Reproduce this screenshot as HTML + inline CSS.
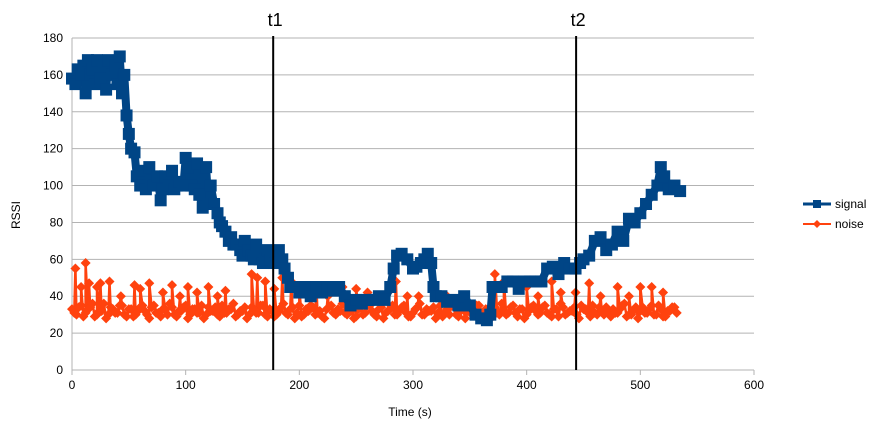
<!DOCTYPE html>
<html><head><meta charset="utf-8"><style>
body{margin:0;background:#fff;}
svg{display:block;font-family:"Liberation Sans",sans-serif;}
</style></head><body>
<svg id="chart" width="881" height="429"></svg>
<script>
const xTicks=[0,100,200,300,400,500,600];
const yTicks=[0,20,40,60,80,100,120,140,160,180];
const markerTimes=[177,443.5];
const markerLabels=["t1","t2"];
const signalT=[0,3,5,8,10,12,14,16,18,20,22,25,28,30,32,35,38,40,42,44,46,48,50,52,55,57,60,62,65,68,70,72,75,78,80,82,85,88,90,92,95,98,100,102,105,108,110,112,115,118,120,122,125,128,130,132,135,138,140,142,145,148,150,152,155,158,160,162,165,168,170,172,175,178,180,182,185,187,190,192,195,200,205,210,215,220,225,230,235,240,245,250,255,260,265,270,275,280,283,286,290,295,300,303,307,310,313,316,318,320,325,330,335,340,345,350,355,360,365,368,370,373,378,383,388,393,398,403,408,413,418,423,428,433,438,443,447,450,455,460,465,470,475,480,485,490,495,500,505,510,515,518,521,525,530,535];
const signalV=[158,155,163,160,165,150,168,160,163,155,168,158,165,152,168,160,165,155,170,150,160,138,128,120,118,105,100,108,98,110,103,100,105,92,98,105,100,108,98,100,102,100,115,110,100,98,112,95,88,110,90,100,90,85,80,78,75,70,72,68,68,65,62,70,65,62,60,68,60,58,60,65,60,58,62,65,60,55,50,45,45,42,45,40,45,42,45,43,45,40,35,38,36,38,38,40,38,45,55,62,63,60,55,56,58,60,63,58,45,40,40,37,38,35,40,35,30,28,27,30,45,45,45,48,48,44,48,48,48,48,55,56,52,58,55,55,58,60,62,70,72,65,68,75,70,82,80,85,90,95,100,110,105,98,100,97];
const noiseBase=[33,30,35,31,34,29,32,36,30,33,31,35,29,33,30,34,32,28,35,31,33,30,34,29,32,35,30,33,31,28,34,32,30,35,31,33,29,32,34,30,33,31,35,29,32,30,34,31,33,28,35,30,32,34,31,29,33,35,30,32,31,34,28,33,30,35,32,29,34,31,33,30,32,35,29,31,34,30,33,32,28,35,31,30,34,29,33,32,30,35,31,33,28,34,30,32,31,35,29,33,30,34,32,31,35,30,33,29,34,31,32,30,35,33,29,31,34,30,32,33,31,35,29,30,34,32,31,33,30,35,29,32,34,31];
const noiseBase2=[31,34,29,33,36,30,32,28,34,31,35,30,33,29,32,35,30,34,31,29,33,36,30,32,34,28,33,31,35,30,32,34,29,31,33,36,30,32,28,34,31,35,30,33,29,32,36,30,34,31,29,33,35,30,32,28,34,31,33,36,30,32,29,34,31,35,30,33,28,32,35,30,34,31,29,33,36,30,32,34,31,29,33,35,30,32,28,34,31,35,30,33,29,32,36,30,34,31,33,28,32,35,30,34,31,29,33,36,30,32,34,28,33,31,35,30,32,34,29,31,33,36,30,32,28,34,31,35,30,33,29,32,34];
const spikeT=[3,8,12,15,22,25,33,43,55,60,68,80,88,95,102,110,120,128,135,158,163,170,178,185,193,200,215,225,238,250,260,278,285,295,305,330,355,372,380,400,410,422,430,443,455,465,480,490,500,510,520];
const spikeV=[55,45,58,47,45,47,48,40,46,44,47,42,46,40,45,42,45,40,43,52,50,48,44,50,48,44,45,40,45,44,42,42,48,40,40,40,35,52,48,45,40,48,42,42,47,40,45,40,45,45,42];
const NS="http://www.w3.org/2000/svg";
const svg=document.getElementById('chart');
const X0=72,X1=754,Y0=370,Y1=38;
const sx=v=>X0+(v/600)*(X1-X0);
const sy=v=>Y0-(v/180)*(Y0-Y1);
function mk(tag,a,parent){const e=document.createElementNS(NS,tag);for(const k in a)e.setAttribute(k,a[k]);(parent||svg).appendChild(e);return e;}
const grid=mk('g',{});


yTicks.forEach(v=>{mk('line',{x1:X0,x2:X1,y1:sy(v),y2:sy(v),stroke:'#b3b3b3','stroke-width':1},grid);
const t=mk('text',{x:63,y:sy(v)+4,'text-anchor':'end','font-size':12,fill:'#000'});t.textContent=v;

});
xTicks.forEach(v=>{mk('line',{x1:sx(v),x2:sx(v),y1:Y0,y2:Y0+5,stroke:'#b3b3b3'},grid);
const t=mk('text',{x:sx(v),y:389,'text-anchor':'middle','font-size':12,fill:'#000'});t.textContent=v;

});
mk('line',{x1:X0,x2:X0,y1:Y1,y2:Y0+5,stroke:'#b3b3b3'},grid);
// noise
const nT=[],nV=[];
noiseBase.forEach((v,i)=>{nT.push(i*4);nV.push(v);});
noiseBase2.forEach((v,i)=>{nT.push(i*4+2);nV.push(v);});
spikeT.forEach((t,i)=>{nT.push(t);nV.push(spikeV[i]);});
const idx=nT.map((t,i)=>i).sort((a,b)=>nT[a]-nT[b]);
const noiseG=mk('g',{});


let d='';idx.forEach((i,k)=>{d+=(k?'L':'M')+sx(nT[i]).toFixed(1)+' '+sy(nV[i]).toFixed(1);});
mk('path',{d:d,fill:'none',stroke:'#ff420e','stroke-width':2.5},noiseG);
idx.forEach(i=>{const x=sx(nT[i]),y=sy(nV[i]);mk('path',{d:`M${x} ${y-5}L${x+5} ${y}L${x} ${y+5}L${x-5} ${y}Z`,fill:'#ff420e'},noiseG);});
// signal
const sigG=mk('g',{});


d='';signalT.forEach((t,i)=>{d+=(i?'L':'M')+sx(t).toFixed(1)+' '+sy(signalV[i]).toFixed(1);});
mk('path',{d:d,fill:'none',stroke:'#004586','stroke-width':8,'stroke-linejoin':'round'},sigG);
signalT.forEach((t,i)=>{mk('rect',{x:sx(t)-6,y:sy(signalV[i])-6,width:12,height:12,fill:'#004586'},sigG);});
// markers
markerTimes.forEach((t,i)=>{const l=mk('line',{x1:sx(t),x2:sx(t),y1:36,y2:370,stroke:'#000','stroke-width':2});


const tx=mk('text',{x:sx(t)+2,y:26,'text-anchor':'middle','font-size':18,fill:'#000'});tx.textContent=markerLabels[i];

});
// axis titles
const xt=mk('text',{x:410,y:416,'text-anchor':'middle','font-size':12});xt.textContent='Time (s)';


const yt=mk('text',{x:20,y:215,'text-anchor':'middle','font-size':12,transform:'rotate(-90 20 215)'});yt.textContent='RSSI';


// legend
const lg=mk('g',{});


mk('line',{x1:803,x2:831,y1:204,y2:204,stroke:'#004586','stroke-width':3},lg);
mk('rect',{x:813,y:200,width:8,height:8,fill:'#004586'},lg);
let lt=mk('text',{x:835,y:208,'font-size':12},lg);lt.textContent='signal';
mk('line',{x1:803,x2:831,y1:224,y2:224,stroke:'#ff420e','stroke-width':2},lg);
mk('path',{d:'M817 220L821 224L817 228L813 224Z',fill:'#ff420e'},lg);
lt=mk('text',{x:835,y:228,'font-size':12},lg);lt.textContent='noise';
</script>
</body></html>
